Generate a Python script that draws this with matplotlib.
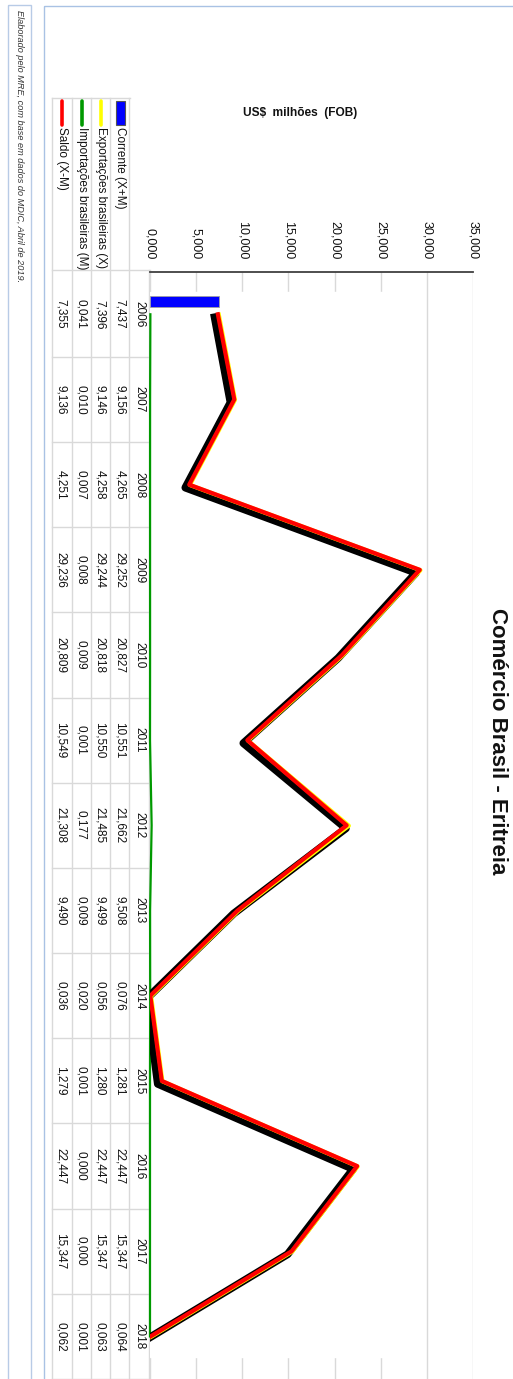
import matplotlib
matplotlib.use("Agg")
import matplotlib.pyplot as plt
from matplotlib import transforms
from matplotlib.patches import Rectangle
from matplotlib.ticker import FuncFormatter

# dados (US$ milhões FOB)
anos = [2006, 2007, 2008, 2009, 2010, 2011, 2012, 2013, 2014, 2015, 2016, 2017, 2018]
corrente = [7.437, 9.156, 4.265, 29.252, 20.827, 10.551, 21.662, 9.508, 0.076, 1.281, 22.447, 15.347, 0.064]
exportacoes = [7.396, 9.146, 4.258, 29.244, 20.818, 10.550, 21.485, 9.499, 0.056, 1.280, 22.447, 15.347, 0.063]
importacoes = [0.041, 0.010, 0.007, 0.008, 0.009, 0.001, 0.177, 0.009, 0.020, 0.001, 0.000, 0.000, 0.001]
saldo = [7.355, 9.136, 4.251, 29.236, 20.809, 10.549, 21.308, 9.490, 0.036, 1.279, 22.447, 15.347, 0.062]

rotulos = ["Corrente (X+M)", "Exportações brasileiras (X)", "Importações brasileiras (M)", "Saldo (X-M)"]
cores = ["#0000ff", "#ffff00", "#009900", "#ff0000"]
ticks_valor = [0, 5, 10, 15, 20, 25, 30, 35]

W, H = 513, 1379
FONTE = "Liberation Sans"


def fmt(v):
    return f"{v:.3f}".replace(".", ",")


fig = plt.figure(figsize=(W / 100, H / 100), dpi=100)

# camada de fundo em pixels (molduras, tabela, textos)
bg = fig.add_axes([0, 0, 1, 1], zorder=0)
bg.set_xlim(0, W)
bg.set_ylim(H, 0)
bg.axis("off")

borda = "#a9c2e4"
bg.add_patch(Rectangle((8, 5), 23, H, fill=False, ec="#b8cbe6", lw=1.0))
bg.add_patch(Rectangle((44, 6), W, H, fill=False, ec=borda, lw=1.0))

bg.text(19, 10, "Elaborado pelo MRE, com base em dados do MDIC, Abril de 2019.",
        rotation=-90, ha="center", va="top", fontsize=6.6, style="italic",
        family=FONTE, color="#333333")

bg.text(497, 741, "Comércio Brasil - Eritreia", rotation=-90, ha="center", va="center",
        fontsize=16, fontweight="bold", family=FONTE, color="#111111")

bg.text(300, 113, "US$  milhões  (FOB)", ha="center", va="center",
        fontsize=8.6, fontweight="bold", family=FONTE, color="#111111")

# eixo principal (valores na horizontal, anos na vertical)
ax = fig.add_axes([150 / W, 0, (473 - 150) / W, (H - 271.7) / H], zorder=2)
ax.patch.set_alpha(0)
ax.set_xlim(0, 35)
ax.set_ylim(anos[-1] + 0.5, anos[0] - 0.5)
ax.set_xticks(ticks_valor)
ax.xaxis.tick_top()
ax.xaxis.set_major_formatter(FuncFormatter(lambda v, p: fmt(v)))
ax.tick_params(axis="x", length=0, pad=9, labelsize=9, labelrotation=-90, labelcolor="#111111")
for lab in ax.get_xticklabels():
    lab.set_family(FONTE)
ax.set_yticks([])
ax.grid(axis="x", color="#d9d9d9", lw=1.0)
ax.set_axisbelow(True)
for s in ["left", "right", "bottom"]:
    ax.spines[s].set_visible(False)
ax.spines["top"].set_color("#404040")
ax.spines["top"].set_linewidth(1.3)

# faixa branca da area das series
ax.add_patch(Rectangle((0, anos[0] - 0.26), max(corrente) + 0.3, anos[-1] - anos[0] + 0.5,
                       color="white", zorder=1))

ax.barh(anos[0] - 0.147, corrente[0], height=0.13, color=cores[0],
        edgecolor="#a0a0a0", lw=0.6, zorder=2)

sombra = transforms.offset_copy(ax.transData, fig=fig, x=-4, y=-3, units="dots")
desl = transforms.offset_copy(ax.transData, fig=fig, x=0.6, y=-0.4, units="dots")
ax.plot(importacoes, anos, color=cores[2], lw=1.6, zorder=2.5, clip_on=False)
ax.plot(corrente, anos, color="black", lw=5.6, zorder=3, transform=sombra)
ax.plot(exportacoes, anos, color=cores[1], lw=3.0, zorder=4, transform=desl)
ax.plot(saldo, anos, color=cores[3], lw=3.0, zorder=5)

# tabela de dados: x em pixels, y em anos
tr = transforms.blended_transform_factory(bg.transData, ax.transData)
linha = "#d9d9d9"
col_x = [139, 120, 100, 81, 61]
sep_x = [52, 72, 91, 110, 129, 149]
for i, a in enumerate(anos):
    bg.text(col_x[0], a, str(a), transform=tr, rotation=-90, ha="center", va="center",
            fontsize=8.5, family=FONTE, color="#111111")
    for x, serie in zip(col_x[1:], [corrente, exportacoes, importacoes, saldo]):
        bg.text(x, a, fmt(serie[i]), transform=tr, rotation=-90, ha="center",
                va="center", fontsize=8.5, family=FONTE, color="#111111")
    bg.plot([52, 149], [a + 0.5, a + 0.5], transform=tr, color=linha, lw=1.0)

for x in sep_x[:-1]:
    bg.plot([x, x], [98, H], color=linha, lw=1.0)
bg.plot([149, 149], [270, H], color=linha, lw=1.0)
bg.plot([52, 130], [98, 98], color=linha, lw=1.0)
bg.plot([52, 150], [270, 270], color=linha, lw=1.0)

# legenda na coluna de cabecalho
leg_x = [120, 101, 82, 62]
bg.add_patch(Rectangle((leg_x[0] - 4.5, 101), 9, 24, fc=cores[0], ec="#555555", lw=0.8))
for x, c in zip(leg_x[1:], cores[1:]):
    bg.plot([x, x], [101, 125], color=c, lw=2.6, solid_capstyle="round")
for x, r in zip(leg_x, rotulos):
    bg.text(x, 127, r, rotation=-90, ha="center", va="top", fontsize=8.5,
            family=FONTE, color="#111111")

fig.savefig("out.png", dpi=100)
